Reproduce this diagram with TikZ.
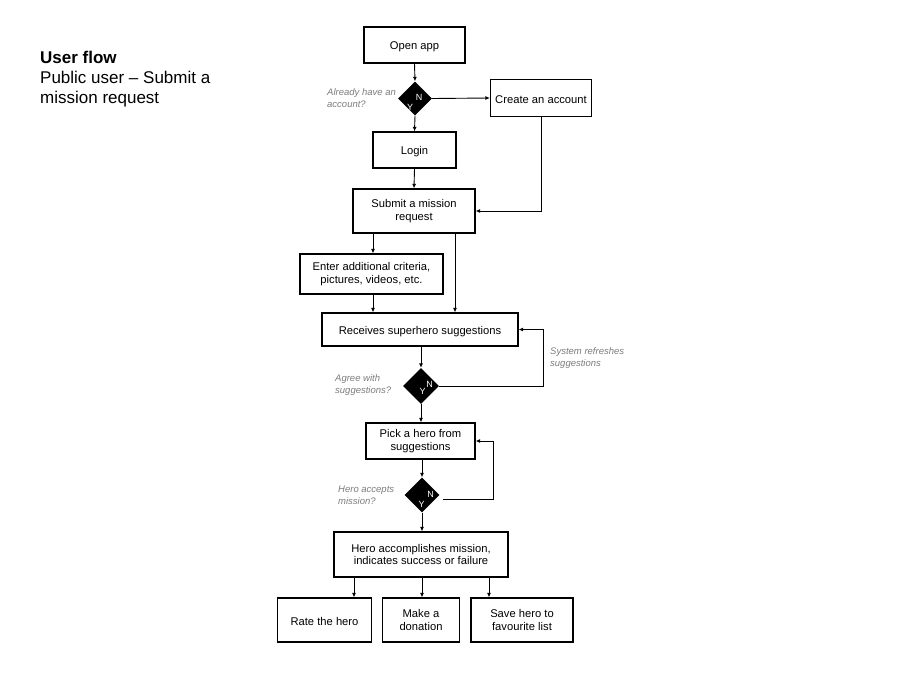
\documentclass[tikz,border=0pt]{standalone}
\usepackage{fontspec}
\setmainfont{Liberation Sans}
\usetikzlibrary{shapes.geometric,arrows.meta}
\definecolor{lblgray}{RGB}{125,125,125}
\begin{document}
\begin{tikzpicture}[x=1pt,y=-1pt,
  box/.style={draw=black,line width=1.2pt,inner sep=0pt,align=center,font=\fontsize{11.2}{12.6}\selectfont,execute at begin node={\rule{0pt}{12pt}}},
  dia/.style={diamond,fill=black,inner sep=0pt,aspect=1},
  arr/.style={draw=black,line width=0.9pt,-{Latex[length=4.5pt,width=4pt]}},
  lbl/.style={anchor=north west,inner sep=0pt,align=left,text=lblgray,font=\fontsize{9.5}{12}\selectfont\itshape},
  yn/.style={inner sep=0pt,text=white,font=\fontsize{9}{10}\selectfont}]
\useasboundingbox (0,0) rectangle (900,675);
\fill[white] (0,0) rectangle (900,675);

% title
\node[anchor=base west,inner sep=0pt,font=\fontsize{17}{20}\selectfont\bfseries] (t1) at (40,63) {User flow};
\node[anchor=base west,inner sep=0pt,font=\fontsize{17}{20}\selectfont] (t2) at (40,83) {Public user -- Submit a};
\node[anchor=base west,inner sep=0pt,font=\fontsize{17}{20}\selectfont] (t3) at (40,103) {mission request};

% boxes
\node[box,minimum width=101,minimum height=36] (open) at (414.5,45) {Open app};
\node[dia,minimum width=34,minimum height=34] (d1) at (415,98.5) {};
\node[box,minimum width=101,minimum height=37] (create) at (541,98) {Create an account};
\node[box,minimum width=83,minimum height=36] (login) at (414.5,150) {Login};
\node[box,minimum width=122,minimum height=44] (submit) at (414,211) {Submit a mission\\request};
\node[box,minimum width=143,minimum height=40] (enter) at (371.5,274) {Enter additional criteria,\\pictures, videos, etc.};
\node[box,minimum width=196,minimum height=33] (recv) at (420,329.5) {Receives superhero suggestions};
\node[dia,minimum width=36,minimum height=36] (d2) at (421,386) {};
\node[box,minimum width=109,minimum height=36] (pick) at (420.5,441) {Pick a hero from\\suggestions};
\node[dia,minimum width=35,minimum height=35] (d3) at (422,495) {};
\node[box,minimum width=174,minimum height=45] (hero) at (421,554.5) {Hero accomplishes mission,\\indicates success or failure};
\node[box,minimum width=94,minimum height=44] (rate) at (324.5,620) {Rate the hero};
\node[box,minimum width=77,minimum height=44] (donate) at (421,620) {Make a\\donation};
\node[box,minimum width=102,minimum height=44] (save) at (522,620) {Save hero to\\favourite list};

% Y/N marks
\node[yn] (n1) at (419,97) {N};
\node[yn] (y1) at (410,107) {Y};
\node[yn] (n2) at (429.5,384) {N};
\node[yn] (y2) at (422.5,391.5) {Y};
\node[yn] (n3) at (430.5,494) {N};
\node[yn] (y3) at (421.5,504.5) {Y};

% labels
\node[lbl] (l1) at (327,88) {Already have an\\account?};
\node[lbl] (l2) at (335,374) {Agree with\\suggestions?};
\node[lbl] (l3) at (550,347) {System refreshes\\suggestions};
\node[lbl] (l4) at (338,486) {Hero accepts\\mission?};

% helper coordinates
\coordinate (cx2) at (455,0);
\coordinate (cx3) at (373,0);
\coordinate (r2) at (543,0);
\coordinate (r3) at (493,0);
\coordinate (h1) at (354,0);
\coordinate (h2) at (422,0);
\coordinate (h3) at (489,0);

% connectors
\draw[arr] (open.south) -- (d1.north);
\draw[arr] (d1.east) -- (create.west);
\draw[arr] (d1.south) -- (login.north);
\draw[arr] (login.south) -- (submit.north);
\draw[arr] (create.south) |- (submit.east);
\draw[arr] (submit.south -| cx3) -- (enter.north -| cx3);
\draw[arr] (submit.south -| cx2) -- (recv.north -| cx2);
\draw[arr] (enter.south -| cx3) -- (recv.north -| cx3);
\draw[arr] (recv.south -| d2.north) -- (d2.north);
\draw[arr] (d2.east) -- (d2.east -| r2) |- (recv.east);
\draw[arr] (d2.south) -- (pick.north -| d2.south);
\draw[arr] (pick.south -| d3.north) -- (d3.north);
\draw[arr] ([xshift=3pt,yshift=-4pt]d3.east) -- ([yshift=-4pt]d3.east -| r3) |- (pick.east);
\draw[arr] (d3.south) -- (hero.north -| d3.south);
\draw[arr] (hero.south -| h1) -- (rate.north -| h1);
\draw[arr] (hero.south -| h2) -- (donate.north -| h2);
\draw[arr] (hero.south -| h3) -- (save.north -| h3);
\end{tikzpicture}
\end{document}
